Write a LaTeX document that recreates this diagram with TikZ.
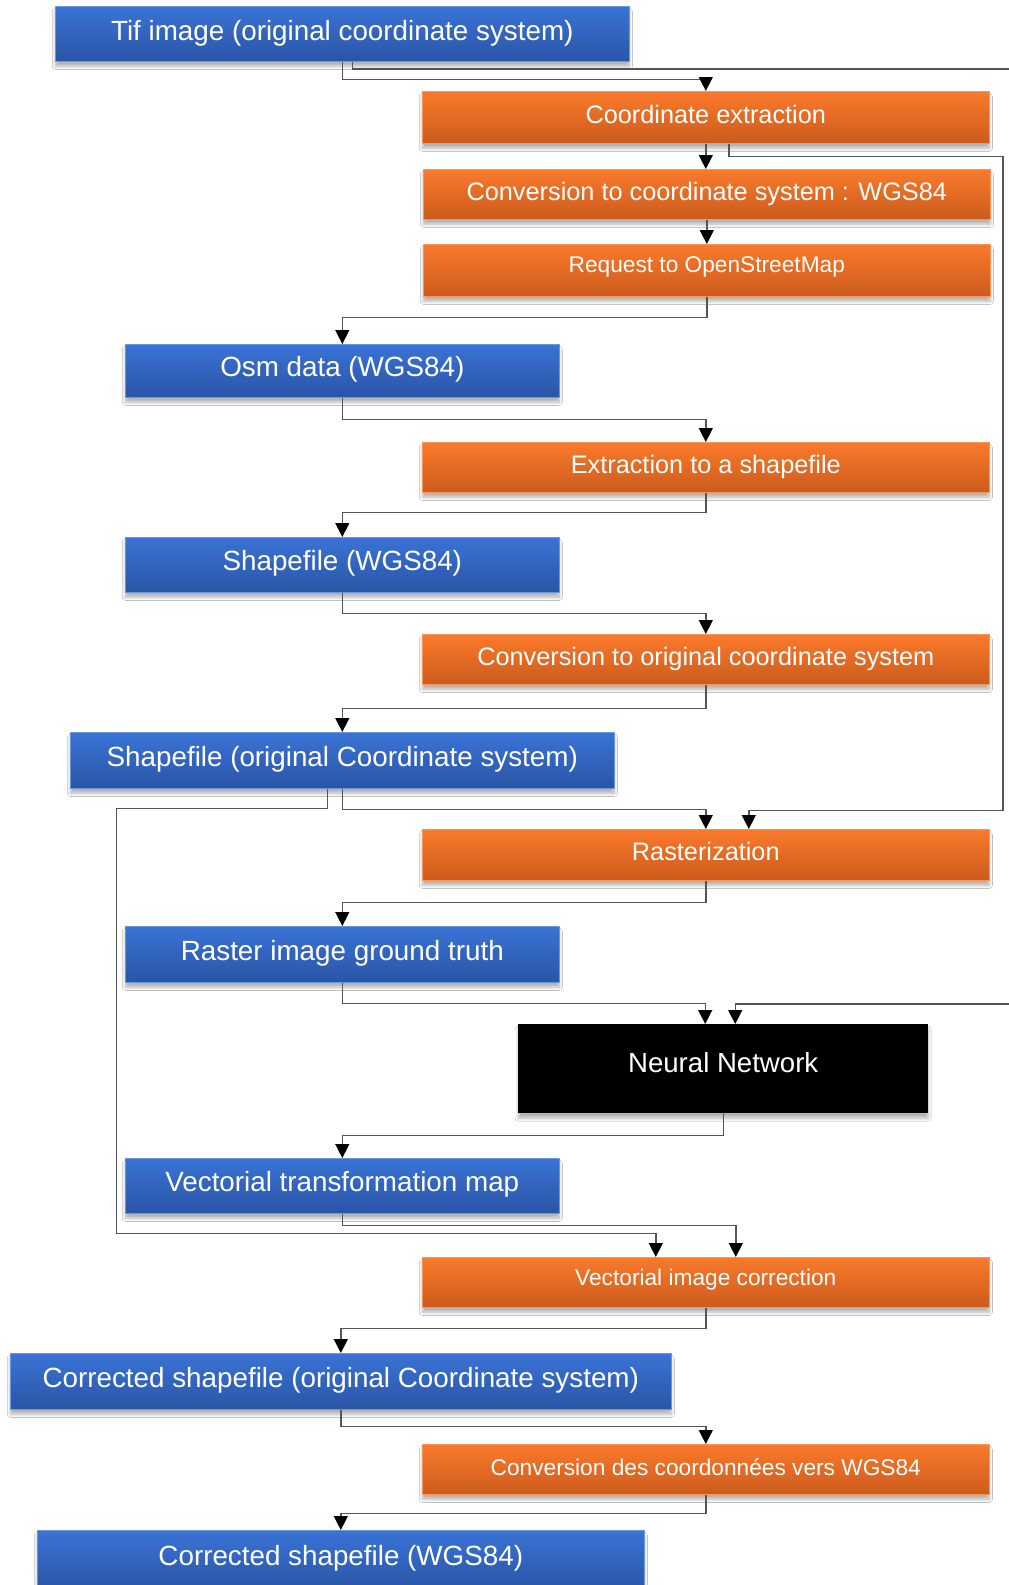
\documentclass[tikz,border=0pt]{standalone}
\usepackage{fontspec}
\setmainfont{Liberation Sans}
\usetikzlibrary{arrows.meta,shadows.blur}
\definecolor{bluetop}{HTML}{3A73D6}
\definecolor{bluebot}{HTML}{2A55A6}
\definecolor{orgtop}{HTML}{FA7A2C}
\definecolor{orgbot}{HTML}{CC5B1C}
\definecolor{linec}{HTML}{555555}
\newcommand\bl[2]{\raisebox{-#1pt}[0pt][0pt]{#2}}
\tikzset{
  box/.style={anchor=north west, inner sep=0pt, text=white,
    blur shadow={shadow xshift=0pt, shadow yshift=-5pt, shadow opacity=30,
      shadow blur radius=3pt, shadow blur steps=10}},
  bluebox/.style={box, top color=bluetop, bottom color=bluebot, draw=bluetop!75!white,
    line width=0.6pt, font=\fontsize{27.8}{30}\selectfont},
  orangebox/.style={box, top color=orgtop, bottom color=orgbot, draw=orgtop!80!white,
    line width=0.6pt, font=\fontsize{25.3}{28}\selectfont},
  smallorange/.style={orangebox, font=\fontsize{22.7}{25}\selectfont},
  blackbox/.style={box, fill=black, font=\fontsize{27.6}{30}\selectfont},
  conn/.style={draw=linec, line width=1.4pt, -{Triangle[width=14pt,length=14pt,color=black]}},
  wire/.style={draw=linec, line width=1.4pt},
}
\begin{document}
\begin{tikzpicture}[x=1pt,y=-1pt]
\fill[white] (0,0) rectangle (1009,1585);
\useasboundingbox (0,0) rectangle (1009,1585);

\node[bluebox, minimum width=574pt, minimum height=55pt] (tif) at (55,6) {\bl{6.5}{Tif image (original coordinate system)}};
\node[orangebox, minimum width=567pt, minimum height=52pt] (ce) at (422,91) {\bl{6}{Coordinate extraction}};
\node[orangebox, minimum width=567pt, minimum height=50pt] (cw) at (423,169) {\bl{6}{Conversion to coordinate system : WGS84}};
\node[smallorange, minimum width=567pt, minimum height=52pt] (req) at (423,244) {\bl{2}{Request to OpenStreetMap}};
\node[bluebox, minimum width=434pt, minimum height=53pt] (osm) at (125,344) {\bl{5.5}{Osm data (WGS84)}};
\node[orangebox, minimum width=567pt, minimum height=50pt] (ext) at (422,442) {\bl{6}{Extraction to a shapefile}};
\node[bluebox, minimum width=434pt, minimum height=55pt] (shp) at (125,537) {\bl{6}{Shapefile (WGS84)}};
\node[orangebox, minimum width=567pt, minimum height=50pt] (conv) at (422,634) {\bl{6}{Conversion to original coordinate system}};
\node[bluebox, minimum width=544pt, minimum height=56pt] (shpo) at (70,732) {\bl{6}{Shapefile (original Coordinate system)}};
\node[orangebox, minimum width=567pt, minimum height=51pt] (ras) at (422,829) {\bl{6}{Rasterization}};
\node[bluebox, minimum width=434pt, minimum height=56pt] (rgt) at (125,926) {\bl{6}{Raster image ground truth}};
\node[blackbox, minimum width=410pt, minimum height=89pt] (nn) at (518,1024) {\bl{4}{Neural Network}};
\node[bluebox, minimum width=434pt, minimum height=55pt] (vtm) at (125,1158) {\bl{6}{Vectorial transformation map}};
\node[smallorange, minimum width=567pt, minimum height=50pt] (vic) at (422,1257) {\bl{3}{Vectorial image correction}};
\node[bluebox, minimum width=661pt, minimum height=56pt] (cso) at (10,1353) {\bl{6}{Corrected shapefile (original Coordinate system)}};
\node[smallorange, minimum width=567pt, minimum height=50pt] (cdc) at (422,1444) {\bl{6}{Conversion des coordonnées vers WGS84}};
\node[bluebox, minimum width=607pt, minimum height=60pt] (csw) at (37,1530) {\bl{5.5}{Corrected shapefile (WGS84)}};

\coordinate (edgeA) at (1012,69);
\coordinate (edgeB) at (1012,1004);

% connectors
\draw[conn] (tif.south) -- ++(0,18) -| (ce.north);
\draw[wire] ([xshift=10pt]tif.south) |- (edgeA);
\draw[conn] (ce.south) -- (ce.south |- cw.north);
\draw[conn] ([xshift=23pt]ce.south) -- ++(0,13) -- ++(274,0) -- ++(0,654) -| ([xshift=43pt]ras.north);
\draw[conn] (cw.south) -- (cw.south |- req.north);
\draw[conn] (req.south) -- ++(0,21) -| (osm.north);
\draw[conn] (osm.south) -- ++(0,22) -| (ext.north);
\draw[conn] (ext.south) -- ++(0,20) -| (shp.north);
\draw[conn] (shp.south) -- ++(0,21) -| (conv.north);
\draw[conn] (conv.south) -- ++(0,24) -| (shpo.north);
\draw[conn] (shpo.south) -- ++(0,21) -| (ras.north);
\draw[conn] ([xshift=-15pt]shpo.south) -- ++(0,20) -- ++(-211,0) -- ++(0,425) -| ([xshift=-50pt]vic.north);
\draw[conn] (ras.south) -- ++(0,22) -| (rgt.north);
\draw[conn] (rgt.south) -- ++(0,21) -| ([xshift=-18pt]nn.north);
\draw[conn] (edgeB) -| ([xshift=12pt]nn.north);
\draw[conn] (nn.south) -- ++(0,22) -| (vtm.north);
\draw[conn] (vtm.south) -- ++(0,12) -| ([xshift=30pt]vic.north);
\draw[conn] (vic.south) -- ++(0,21) -| (cso.north);
\draw[conn] (cso.south) -- ++(0,17) -| (cdc.north);
\draw[conn] (cdc.south) -- ++(0,19) -| (csw.north);
\end{tikzpicture}
\end{document}
